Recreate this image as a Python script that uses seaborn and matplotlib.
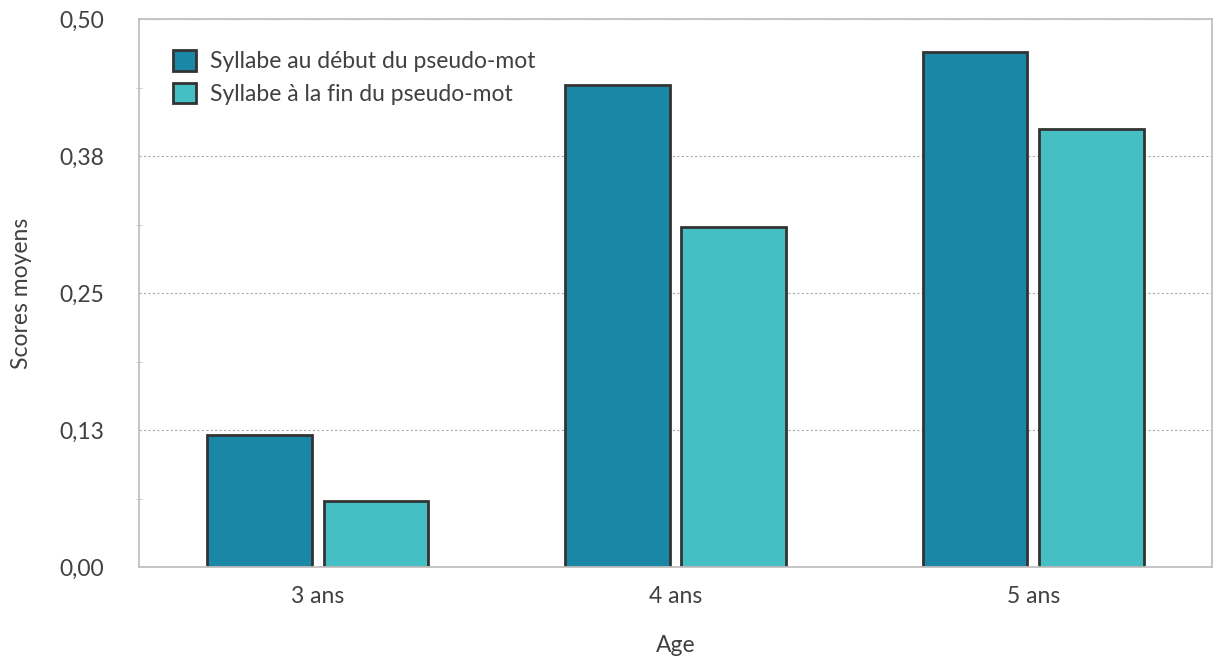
import matplotlib
matplotlib.use("Agg")
import matplotlib.pyplot as plt
import pandas as pd
import seaborn as sns
from matplotlib.ticker import FixedLocator, MultipleLocator

ages = ["3 ans", "4 ans", "5 ans"]
series_names = ["Syllabe au début du pseudo-mot", "Syllabe à la fin du pseudo-mot"]
debut = [0.12, 0.44, 0.47]
fin = [0.06, 0.31, 0.40]
y_ticks = [0.0, 0.125, 0.25, 0.375, 0.5]
y_tick_labels = ["0,00", "0,13", "0,25", "0,38", "0,50"]

df = pd.DataFrame({
    "Age": ages * 2,
    "serie": [series_names[0]] * 3 + [series_names[1]] * 3,
    "score": debut + fin,
})

sns.set_style("white")
plt.rcParams["font.family"] = ["Lato", "DejaVu Sans"]
text_color = "#404040"
fs = 16.5

fig = plt.figure(figsize=(12.14, 6.57), dpi=100)
ax = fig.add_axes([139 / 1214, 1 - 567 / 657, (1212 - 139) / 1214, (567 - 19) / 657])

sns.barplot(
    data=df, x="Age", y="score", hue="serie", ax=ax,
    palette=["#1a87a6", "#45bfc3"], width=0.65, gap=0.1,
    edgecolor="#333333", linewidth=2.0, saturation=1,
)

ax.set_xlim(-0.5, 2.5)
ax.set_ylim(0, 0.5)
ax.yaxis.set_major_locator(FixedLocator(y_ticks))
ax.set_yticklabels(y_tick_labels)
ax.yaxis.set_minor_locator(MultipleLocator(0.0625))
ax.grid(axis="y", which="major", color="#aaaaaa", linestyle=(0, (2, 2)), linewidth=0.8)
ax.set_axisbelow(True)

for side in ["left", "bottom", "top", "right"]:
    ax.spines[side].set_color("#c0c0c0")
    ax.spines[side].set_linewidth(1.3)

ax.tick_params(axis="y", which="major", length=10, direction="inout", color="#c0c0c0",
               labelsize=fs, labelcolor=text_color, pad=20)
ax.tick_params(axis="y", which="minor", length=4, direction="inout", color="#c0c0c0", left=True)
ax.tick_params(axis="x", length=0, labelsize=fs, labelcolor=text_color, pad=14)

ax.set_xlabel("Age", fontsize=fs, color=text_color, labelpad=20)
ax.set_ylabel("Scores moyens", fontsize=fs, color=text_color, labelpad=20)

leg = ax.legend(loc="upper left", bbox_to_anchor=(0.023, 0.96), frameon=False,
                fontsize=fs, handlelength=1.0, handleheight=1.0, handletextpad=0.6,
                labelspacing=0.45, borderaxespad=0)
for t in leg.get_texts():
    t.set_color(text_color)

fig.savefig("out.png", dpi=100)
